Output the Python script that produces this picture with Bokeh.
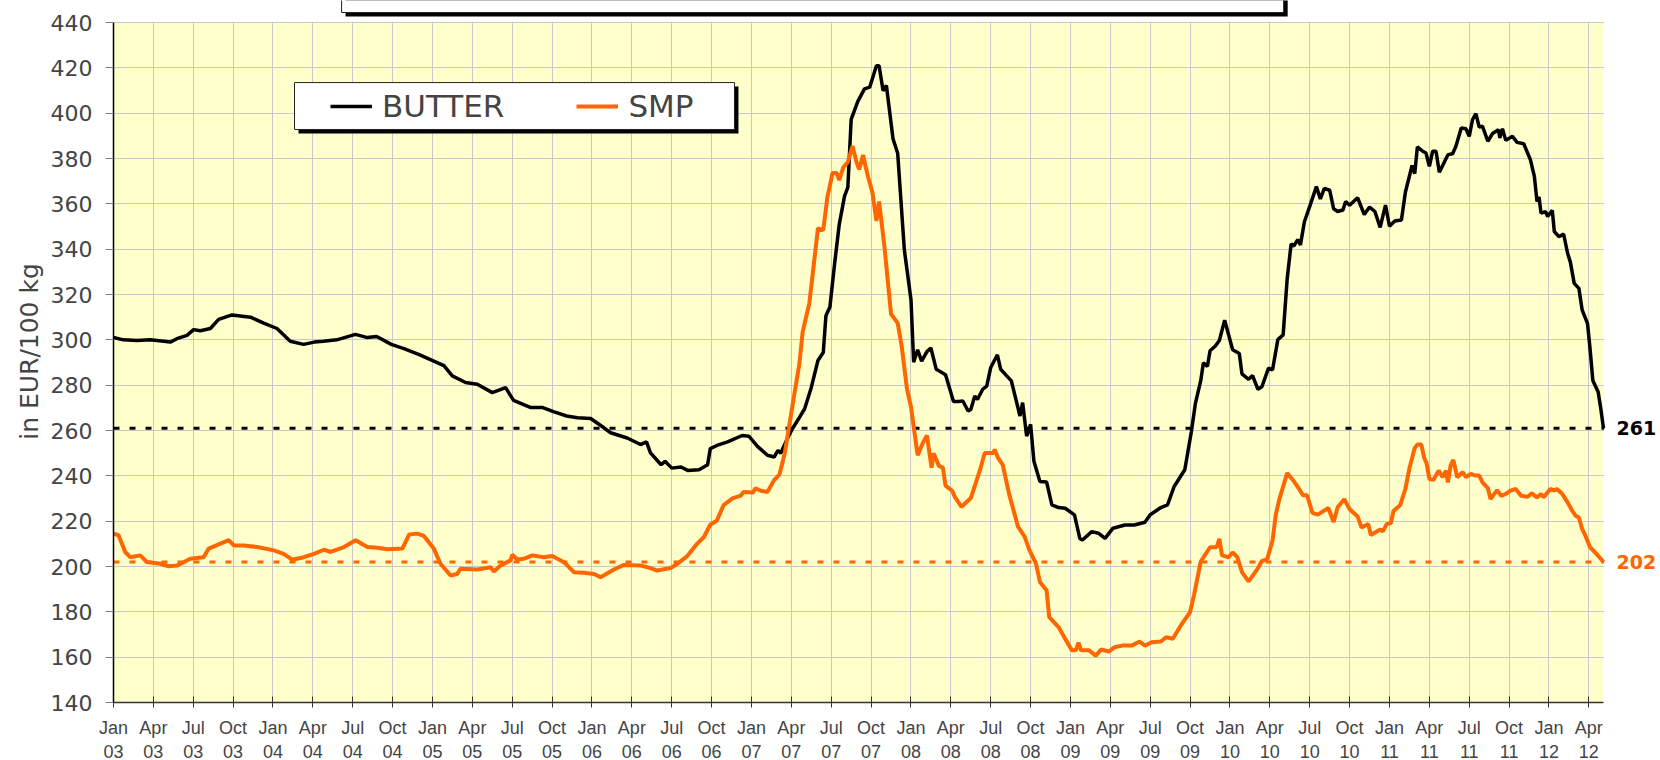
import math
from bokeh.plotting import figure
from bokeh.models import (Range1d, FixedTicker, Span, Label, BoxAnnotation,
                          Legend, LegendItem, Title)
from bokeh.embed import file_html
from bokeh.resources import INLINE

# ---- data (x = months since Jan 2003) ----
butter_month = [0, 0.75, 1.76, 2.76, 4.27, 4.77, 5.53, 6.03, 6.53, 7.29, 7.91, 8.92, 10.3, 11.3,
                12.3, 13.3, 14.3, 15.1, 15.8, 16.8, 18.2, 19.1, 19.8, 20.9, 21.9, 23.0, 24.86,
                25.49, 26.49, 27.37, 28.5, 29.5, 30.1, 31.4, 32.3, 33.1, 34.1, 34.9, 35.9, 36.9,
                37.4, 38.65, 39.65, 40.1, 40.4, 41.2, 41.5, 42.0, 42.7, 43.2, 44.05, 44.7, 44.9,
                45.4, 46.2, 47.3, 47.8, 48.45, 49.2, 49.7, 50.0, 50.2, 50.7, 51.1, 51.6, 52.0,
                52.5, 53.0, 53.4, 53.6, 53.9, 54.25, 54.6, 55.0, 55.25, 55.5, 56.0, 56.5, 56.9,
                57.4, 57.6, 57.9, 58.15, 58.65, 59.0, 59.5, 60.0, 60.2, 60.5, 60.8, 61.2, 61.5,
                61.9, 62.6, 63.2, 63.6, 63.9, 64.3, 64.5, 64.8, 65.0, 65.4, 65.7, 66.0, 66.5,
                66.75, 67.2, 67.55, 68.2, 68.4, 68.7, 69.0, 69.25, 69.7, 70.2, 70.6, 71.1, 71.6,
                72.3, 72.7, 72.9, 73.6, 74.1, 74.6, 75.2, 76.1, 76.8, 77.6, 78.0, 78.8, 79.3,
                79.8, 80.6, 81.1, 81.4, 81.8, 82.0, 82.3, 82.5, 82.9, 83.2, 83.6, 84.2, 84.7,
                84.9, 85.4, 85.7, 86.1, 86.4, 86.9, 87.2, 87.6, 88.0, 88.3, 88.6, 88.8, 89.1,
                89.3, 89.6, 90.0, 90.5, 90.8, 91.1, 91.5, 91.8, 92.1, 92.5, 92.7, 93.0, 93.6,
                94.1, 94.5, 94.9, 95.3, 95.7, 96.0, 96.4, 96.9, 97.2, 97.7, 97.9, 98.1, 98.5,
                98.75, 99.0, 99.25, 99.5, 99.75, 100.4, 100.75, 101.0, 101.4, 101.75, 102.0,
                102.25, 102.5, 102.75, 103.0, 103.4, 103.75, 104.2, 104.3, 104.5, 104.75,
                105.25, 105.6, 106.1, 106.6, 106.9, 107.1, 107.25, 107.4, 107.75, 107.9, 108.25,
                108.4, 108.75, 109.1, 109.4, 109.6, 109.9, 110.25, 110.5, 110.9, 111.1, 111.3,
                111.7, 111.9, 112.1]
butter_price = [301, 300, 299.7, 300, 299, 300.5, 302, 304.5, 304, 305, 309, 311, 310, 307.4,
                305, 299.4, 298, 299, 299.4, 300, 302.4, 301, 301.5, 298, 296, 293.5, 288.6,
                284.1, 281.2, 280.4, 276.7, 278.9, 273.3, 270.1, 270.1, 268.3, 266.4, 265.6, 265.3, 261.2,
                259, 256.7, 253.8, 255, 250.1, 244.9, 246.4, 243.4, 243.9, 242.4, 242.7, 244.9, 252,
                253.4, 255, 257.8, 257.5, 253, 249.1, 248.3, 251.2, 250, 256.5, 261, 265.7, 269.6,
                279, 290.9, 294.4, 310.6, 314.5, 333.4, 350.8, 363.4, 367.3, 397.3, 405.2, 410.7, 411.5,
                420.9, 420.9, 409.9, 412.2, 388.6, 382.3, 339.7, 317.7, 290.1, 295.6, 290.6, 294.8, 296.4,
                287, 284.6, 272.8, 272.8, 273, 268.6, 269.3, 275.2, 273.7, 278.2, 279.6, 287.8, 293.4,
                287, 284.1, 281.9, 266.4, 272.3, 257.5, 262.7, 246.4, 237.5, 237.3, 227.2, 226, 225.7,
                222.8, 212.4, 211.7, 215.4, 214.7, 212.4, 216.9, 218.3, 218.3, 219.5, 222.8, 226, 227.2,
                235.3, 242.7, 259.7, 272, 282, 289.9, 288.2, 295.2, 297.3, 299.7, 308.7, 295.6, 294,
                285, 282.6, 284.2, 278.2, 279.3, 287.5, 286.7, 300.1, 302.2, 326.7, 342.3, 341.4, 344.2,
                341.9, 352.1, 358.9, 367.6, 362.2, 366.8, 366, 357.8, 356.6, 357.3, 361, 359.4, 362.7,
                355.3, 358.6, 356.6, 349.6, 359.4, 350.1, 352.4, 352.9, 365.2, 376.9, 373.3, 385.1, 383.2,
                382.4, 376.5, 383.2, 383.2, 373.9, 381.7, 382.1, 385.4, 393.5, 393.1, 389.8,
                397.2, 399.8, 393.9, 394.2, 387.6, 391, 392.7, 389, 393.1, 388,
                389.8, 387.1, 386.5, 379.5, 372.1, 361, 363, 355.9, 356.6, 354.4, 357.1,
                347.8, 345.5, 346.7, 338.2, 334.5, 324.9, 322.7, 313.1, 307.2, 295.4, 282.1,
                277, 269.6, 261]

smp_month = [0, 0.38, 0.88, 1.26, 2.01, 2.51, 3.52, 4.15, 4.77, 5.78, 6.78, 7.16, 8.04, 8.67,
             9.05, 9.8, 10.8, 12.06, 12.8, 13.44, 14.32, 15.08, 15.83, 16.33, 17.34, 18.22, 19.1,
             19.85, 20.6, 21.73, 22.24, 22.86, 23.35, 24.1, 24.6, 25.36, 25.86, 26.1, 27.37, 28.37,
             28.62, 29.12, 29.87, 30.0, 30.38, 30.88, 31.5, 32.38, 33.01, 33.89, 34.64, 35.39,
             36.15, 36.65, 37.65, 38.4, 39.66, 40.41, 40.91, 41.91, 42.42, 43.17, 43.92, 44.42,
             44.9, 45.4, 45.9, 46.6, 47.2, 47.4, 48.1, 48.3, 48.7, 49.2, 49.7, 50.1, 50.5, 50.85,
             51.2, 51.6, 51.85, 52.35, 52.6, 53.0, 53.4, 53.7, 54.1, 54.4, 54.6, 54.9, 55.25, 55.6,
             55.9, 56.1, 56.4, 56.6, 56.8, 57.1, 57.4, 57.6, 58.0, 58.5, 59.0, 59.3, 59.7, 60.0,
             60.5, 60.9, 61.2, 61.55, 61.7, 62.1, 62.4, 62.6, 63.1, 63.3, 63.8, 64.5, 65.2, 65.55,
             66.2, 66.3, 66.55, 66.9, 67.4, 68.05, 68.55, 68.9, 69.4, 69.7, 70.2, 70.4, 71.1, 71.6,
             72.1, 72.4, 72.6, 72.8, 73.4, 73.9, 74.3, 74.9, 75.3, 75.9, 76.6, 77.2, 77.6, 78.1,
             78.8, 79.2, 79.7, 80.3, 81.0, 81.3, 81.8, 82.5, 83.0, 83.2, 83.4, 83.9, 84.2, 84.55,
             84.9, 85.4, 86.1, 86.4, 86.8, 87.2, 87.45, 87.7, 88.3, 88.7, 89.1, 89.5, 89.8, 90.2,
             90.6, 91.4, 91.8, 92.1, 92.6, 93.0, 93.6, 93.9, 94.4, 94.6, 95.3, 95.5, 95.8, 96.1,
             96.3, 96.8, 97.2, 97.5, 97.9, 98.1, 98.4, 98.6, 98.8, 99.0, 99.3, 99.7, 100.0, 100.25,
             100.4, 100.6, 100.8, 101.1, 101.5, 101.75, 102.1, 102.5, 102.75, 103.0, 103.4, 103.6,
             104.1, 104.4, 104.75, 105.1, 105.5, 105.9, 106.4, 106.7, 107.1, 107.4, 107.6, 108.1,
             108.4, 108.6, 109.0, 109.4, 109.75, 110.0, 110.25, 110.5, 110.75, 111.1, 111.6, 112.1]
smp_price = [214.5, 213.8, 206.4, 204.1, 204.9, 202, 201.2, 200.1, 200.4, 203.4, 204.1, 207.9, 210.1, 211.6,
             209.3, 209.3, 208.6, 207.1, 205.6, 203, 204.1, 205.6, 207.4, 206.4, 208.6, 211.6, 208.6,
             208.3, 207.6, 207.9, 214.1, 214.5, 213.5, 207.9, 201.2, 196, 196.7, 199, 198.7, 199.7,
             197.8, 200.4, 202.7, 205.2, 203.1, 203.4, 204.9, 204.1, 204.6, 201.9, 197.5, 197.2,
             196.7, 195.3, 198.7, 200.7, 200.4, 199.3, 198.2, 199.3, 201.2, 204.6, 210.1, 213,
             218.4, 220.3, 227.1, 230.2, 231.3, 232.9, 232.6, 234.5, 233.4, 232.9, 238.1, 240.5, 249.9, 262.5,
             275.1, 289.3, 303.5, 316.1, 328.7, 349.2, 348.4, 362.6, 373.6, 373.6, 370.5, 376, 378.4, 385.5,
             378.4, 375.2, 381.5, 376, 371.3, 365, 352.4, 361, 341.3, 311.4, 307.4, 297.2, 278.3, 270.4,
             249.1, 254.6, 257.8, 243.6, 249.9, 244.4, 243.6, 235.7, 233.4, 230.7, 226.3, 230.2, 242.7, 250.1,
             250.1, 251.6, 247.9, 244.9, 231.6, 217.6, 213.2, 207.3, 201.4, 193.2, 189.5, 177.7, 173.3, 168.1,
             163, 163, 166.4, 163, 163, 160.7, 163.4, 162.5, 164.4, 165.1, 165.1, 166.9, 165.1, 166.6,
             166.9, 168.8, 168.1, 174, 179.9, 187.5, 202.2, 208.5, 208.5, 212.2, 204.9, 204.1, 206.2, 204.1,
             197.5, 193.4, 199.2, 202.4, 203.3, 211.4, 222.9, 229.4, 241.2, 238.4, 235.1, 231.4, 231.4, 223.7,
             222.9, 225.8, 219.6, 226.1, 229.7, 225.3, 222.1, 217.2, 218.8, 213.9, 216.3, 215.5, 218.8, 219.1,
             224.5, 227, 234.3, 243.3, 252.3, 253.8, 253.8, 248.2, 245.3, 238.6, 238.2, 242.3, 239.4, 242.3,
             237.1, 244.5, 247, 239.4, 241.6, 239.4, 240.8, 240.1, 240.1, 237.1, 234.6, 229.8,
             233.7, 231.2, 232, 233.5, 234.2, 231.2, 230.8, 232.3, 230.5, 232, 230.5, 234.2,
             233.5, 234.2, 232, 228.3, 224.6, 222.4, 221.6, 216.5, 213.5, 208.4, 205.4, 202]

butter_last = 261
smp_last = 202
series_names = ["BUTTER", "SMP"]
y_title = "in EUR/100 kg"
quarter_names = ["Jan", "Apr", "Jul", "Oct"]
year_labels = ["03", "04", "05", "06", "07", "08", "09", "10", "11", "12"]
y_ticks = [140, 160, 180, 200, 220, 240, 260, 280, 300, 320, 340, 360, 380, 400, 420, 440]

x_ticks = list(range(0, 112, 3))
x_labels = {t: quarter_names[(t // 3) % 4] + "\n" + year_labels[t // 12] for t in x_ticks}

X_START, X_END = 0, 112.1      # data extent of the plot area
Y_START, Y_END = 140, 440

ORANGE = "#FF6600"
YELLOW = "#FFFFCC"
FONT = "DejaVu Sans"

# frame extends beyond the chart area (to the right and up) so that the
# end labels and the cut-off title box can be drawn
p = figure(frame_width=1545, frame_height=702,
           x_range=Range1d(X_START, 116.24), y_range=Range1d(Y_START, 449.706),
           output_backend="svg", toolbar_location=None,
           min_border_left=113, min_border_right=0, min_border_top=0, min_border_bottom=20,
           background_fill_color="white", border_fill_color="white",
           outline_line_color=None)

# yellow plot area
p.add_layout(BoxAnnotation(left=X_START, right=X_END, bottom=Y_START, top=Y_END,
                           fill_color=YELLOW, fill_alpha=1, line_alpha=0, level="image"))

for g in (p.xgrid, p.ygrid):
    g.grid_line_color = "#C8C8C8"
    g.grid_line_width = 1

# axes
p.xaxis.ticker = FixedTicker(ticks=x_ticks)
p.xaxis.bounds = (X_START, X_END)
p.xaxis.major_label_overrides = x_labels
p.xaxis.major_label_text_font = "Liberation Sans"
p.xaxis.major_label_text_font_size = "18px"
p.xaxis.major_label_text_line_height = 1.2
p.xaxis.major_label_standoff = 10
p.xaxis.major_tick_in = 6
p.xaxis.major_tick_out = 5
p.xaxis.minor_tick_line_color = None
p.xaxis.axis_line_color = "#333333"
p.xaxis.axis_line_width = 1.5
p.xaxis.major_tick_line_color = "#333333"

p.yaxis.ticker = FixedTicker(ticks=y_ticks)
p.yaxis.bounds = (Y_START, Y_END)
p.yaxis.major_label_text_font = FONT
p.yaxis.major_label_text_font_size = "22px"
p.yaxis.major_label_standoff = 13
p.yaxis.major_tick_in = 0
p.yaxis.major_tick_out = 8
p.yaxis.major_tick_line_color = "#808080"
p.yaxis.minor_tick_line_color = None
p.yaxis.axis_line_color = "black"
p.yaxis.axis_line_width = 1.5

# y-axis title
p.add_layout(Title(text=y_title, align="center", offset=15, text_font=FONT,
                   text_font_size="25px", text_font_style="normal", standoff=8), "left")

# reference lines at the last values
p.add_layout(Span(location=butter_last, dimension="width", line_color="black",
                  line_width=3, line_dash="6 10", level="underlay"))
p.add_layout(Span(location=smp_last, dimension="width", line_color=ORANGE,
                  line_width=3, line_dash="6 10", level="underlay"))

# white covers outside the chart area (hide grid / span overflow)
p.add_layout(BoxAnnotation(bottom=Y_END + 0.3, fill_color="white", fill_alpha=1,
                           line_alpha=0, level="underlay"))
p.add_layout(BoxAnnotation(left=X_END + 0.05, fill_color="white", fill_alpha=1,
                           line_alpha=0, level="underlay"))

r_b = p.line(butter_month, butter_price, line_color="black", line_width=3.5)
r_s = p.line(smp_month, smp_price, line_color=ORANGE, line_width=4)

# end-value labels
p.add_layout(Label(x=X_END, y=butter_last, x_offset=13, text=str(butter_last),
                   text_font=FONT, text_font_style="bold", text_font_size="19px",
                   text_baseline="middle", text_color="black"))
p.add_layout(Label(x=X_END, y=smp_last, x_offset=13, text=str(smp_last),
                   text_font=FONT, text_font_style="bold", text_font_size="19px",
                   text_baseline="middle", text_color=ORANGE))

# title box (cut off at the top) with shadow
p.add_layout(BoxAnnotation(left=17.46, right=88.34, bottom=442.65, top=470,
                           fill_color="black", fill_alpha=1, line_alpha=0))
p.add_layout(BoxAnnotation(left=17.16, right=88.04, bottom=444.41, top=470,
                           fill_color="white", fill_alpha=1, line_color="#222222",
                           line_alpha=1, line_width=1))

# legend box with shadow
p.add_layout(BoxAnnotation(left=13.92, right=47.02, bottom=391.0, top=411.8,
                           fill_color="black", fill_alpha=1, line_alpha=0))
p.add_layout(BoxAnnotation(left=13.62, right=46.72, bottom=392.8, top=413.5,
                           fill_color="white", fill_alpha=1, line_color="#222222",
                           line_alpha=1, line_width=1))

legend = Legend(items=[LegendItem(label=series_names[0], renderers=[r_b]),
                       LegendItem(label=series_names[1], renderers=[r_s])],
                orientation="horizontal", location=(217, 578), padding=0, margin=0,
                spacing=72, glyph_width=42, glyph_height=30, label_standoff=10,
                label_text_font=FONT, label_text_font_size="31px",
                background_fill_alpha=0, border_line_alpha=0)
p.add_layout(legend)

open("out.html", "w").write(file_html(p, INLINE))
